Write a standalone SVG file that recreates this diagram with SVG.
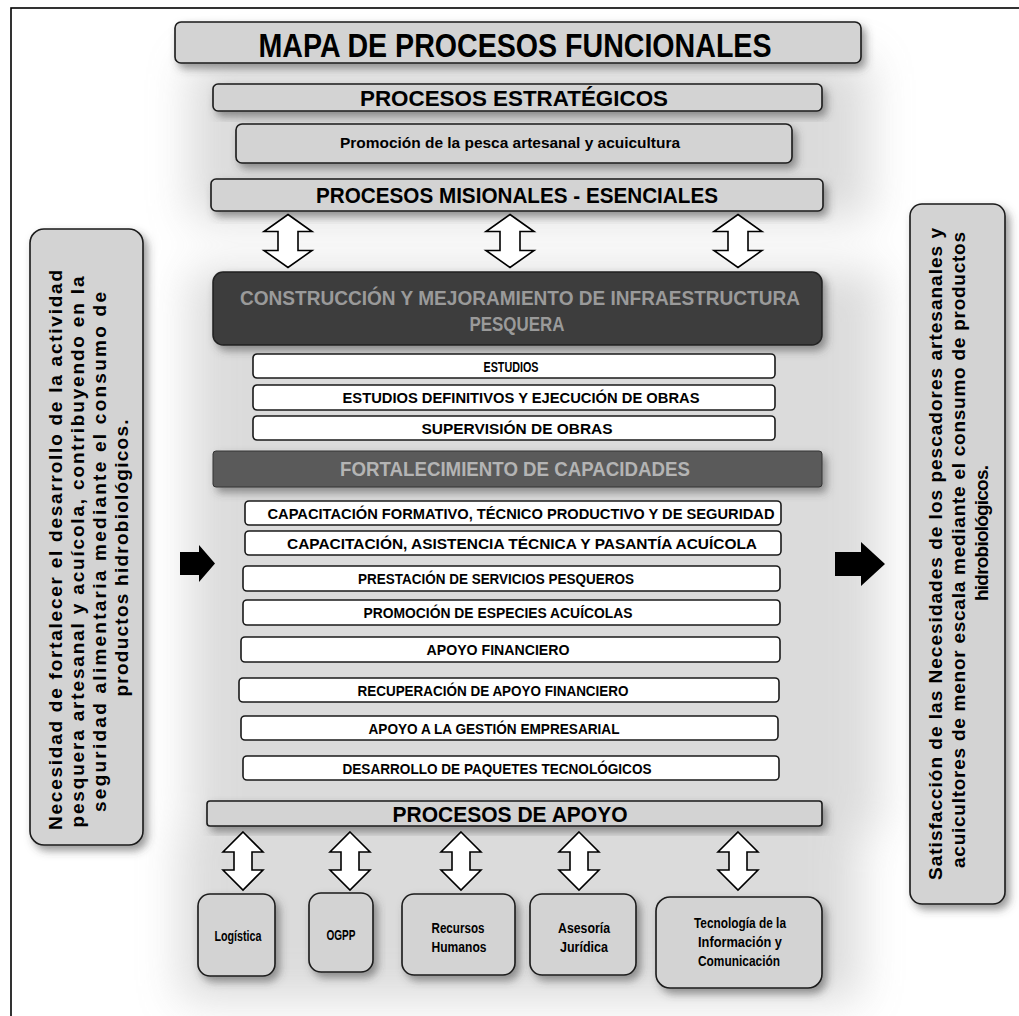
<svg xmlns="http://www.w3.org/2000/svg" width="1019" height="1016" viewBox="0 0 1019 1016">
<style>
.lb{fill:#d3d3d3;stroke:#1a1a1a;stroke-width:1.6}
.wb{fill:#ffffff;stroke:#1a1a1a;stroke-width:1.6}
.n{font-family:"Liberation Sans Narrow","Arial Narrow","Liberation Sans",Arial,sans-serif;font-weight:bold;fill:#000;text-anchor:middle}
.v{font-family:"Liberation Sans",Arial,sans-serif;font-weight:bold;font-size:19px;fill:#000;text-anchor:middle}
.dbl{fill:#fff;stroke:#000;stroke-width:1.6;stroke-linejoin:miter}
.blk{fill:#000}
</style>
<defs>
<filter id="sh" x="-20%" y="-20%" width="140%" height="160%">
<feDropShadow dx="4" dy="5" stdDeviation="4" flood-color="#444" flood-opacity="0.55"/>
</filter>
<filter id="halo" x="-20%" y="-20%" width="140%" height="140%">
<feGaussianBlur stdDeviation="22"/>
</filter>
<path id="da" d="M0,-26.5 L24,-9.5 L10,-9.5 L10,9.5 L24,9.5 L0,26.5 L-24,9.5 L-10,9.5 L-10,-9.5 L-24,-9.5 Z"/>
<path id="db" d="M0,-29 L20,-9 L9,-9 L9,9 L20,9 L0,29 L-20,9 L-9,9 L-9,-9 L-20,-9 Z"/>
</defs>
<rect x="0" y="0" width="1019" height="1016" fill="#fff"/>
<rect x="11" y="8" width="1012" height="1012" fill="none" stroke="#000" stroke-width="1.6"/>
<g id="halo-bg" opacity="0.35" filter="url(#halo)">
<rect x="190" y="60" width="680" height="160" fill="#9a9a9a"/>
<rect x="190" y="270" width="690" height="560" fill="#9a9a9a"/>
<rect x="180" y="830" width="680" height="170" fill="#9a9a9a"/>
</g>

<g id="titulo">
<rect class="lb" x="175" y="22" width="686" height="41" rx="6" filter="url(#sh)"/>
<text class="n" x="515" y="57" font-size="34" textLength="513" lengthAdjust="spacingAndGlyphs">MAPA DE PROCESOS FUNCIONALES</text>
</g>
<g id="estrategicos">
<rect class="lb" x="213" y="84" width="609" height="27" rx="5" filter="url(#sh)"/>
<text class="n" x="514" y="106" font-size="22" textLength="308" lengthAdjust="spacingAndGlyphs">PROCESOS ESTRATÉGICOS</text>
</g>
<g id="promocion">
<rect class="lb" x="236" y="124" width="556" height="39" rx="6" filter="url(#sh)"/>
<text class="n" x="510" y="148" font-size="15" textLength="340" lengthAdjust="spacingAndGlyphs">Promoción de la pesca artesanal y acuicultura</text>
</g>
<g id="misionales">
<rect class="lb" x="211" y="179" width="612" height="32" rx="5" filter="url(#sh)"/>
<text class="n" x="517" y="203" font-size="22" textLength="402" lengthAdjust="spacingAndGlyphs">PROCESOS MISIONALES - ESENCIALES</text>
</g>

<g id="construccion">
<rect x="213" y="272" width="609" height="73" rx="10" fill="#3c3c3c" stroke="#222" stroke-width="1.5" filter="url(#sh)"/>
<text class="n" x="520" y="305" font-size="21" style="fill:#9a9a9a" textLength="560" lengthAdjust="spacingAndGlyphs">CONSTRUCCIÓN Y MEJORAMIENTO DE INFRAESTRUCTURA</text>
<text class="n" x="517" y="331" font-size="21" style="fill:#9a9a9a" textLength="95" lengthAdjust="spacingAndGlyphs">PESQUERA</text>
</g>
<g id="estudios">
<rect class="wb" x="253" y="354" width="522" height="24" rx="4"/>
<text class="n" x="511" y="372" font-size="14" textLength="55" lengthAdjust="spacingAndGlyphs">ESTUDIOS</text>
</g>
<g id="estudios-definitivos">
<rect class="wb" x="253" y="385" width="522" height="25" rx="4"/>
<text class="n" x="521" y="403" font-size="14" textLength="357" lengthAdjust="spacingAndGlyphs">ESTUDIOS DEFINITIVOS Y EJECUCIÓN  DE OBRAS</text>
</g>
<g id="supervision">
<rect class="wb" x="253" y="416" width="522" height="24" rx="4"/>
<text class="n" x="517" y="434" font-size="14" textLength="191" lengthAdjust="spacingAndGlyphs">SUPERVISIÓN DE OBRAS</text>
</g>

<g id="fortalecimiento">
<rect x="213" y="451" width="609" height="36" rx="3" fill="#5a5a5a" stroke="#333" stroke-width="1" filter="url(#sh)"/>
<text class="n" x="515" y="476" font-size="21" style="fill:#b4b4b4" textLength="350" lengthAdjust="spacingAndGlyphs">FORTALECIMIENTO  DE CAPACIDADES</text>
</g>
<g id="cap-formativo">
<rect class="wb" x="245" y="501" width="536" height="24" rx="4"/>
<text class="n" x="521" y="519" font-size="14" textLength="507" lengthAdjust="spacingAndGlyphs">CAPACITACIÓN FORMATIVO, TÉCNICO PRODUCTIVO Y DE SEGURIDAD</text>
</g>
<g id="cap-asistencia">
<rect class="wb" x="245" y="531" width="536" height="24" rx="4"/>
<text class="n" x="522" y="549" font-size="14" textLength="470" lengthAdjust="spacingAndGlyphs">CAPACITACIÓN, ASISTENCIA TÉCNICA Y PASANTÍA ACUÍCOLA</text>
</g>
<g id="prestacion">
<rect class="wb" x="243" y="566" width="537" height="25" rx="4"/>
<text class="n" x="496" y="584" font-size="14" textLength="276" lengthAdjust="spacingAndGlyphs">PRESTACIÓN DE SERVICIOS PESQUEROS</text>
</g>
<g id="promocion-especies">
<rect class="wb" x="243" y="600" width="537" height="25" rx="4"/>
<text class="n" x="498" y="618" font-size="14" textLength="269" lengthAdjust="spacingAndGlyphs">PROMOCIÓN DE ESPECIES  ACUÍCOLAS</text>
</g>
<g id="apoyo-financiero">
<rect class="wb" x="241" y="637" width="539" height="25" rx="4"/>
<text class="n" x="498" y="655" font-size="14" textLength="143" lengthAdjust="spacingAndGlyphs">APOYO FINANCIERO</text>
</g>
<g id="recuperacion">
<rect class="wb" x="239" y="678" width="540" height="24" rx="4"/>
<text class="n" x="493" y="696" font-size="14" textLength="271" lengthAdjust="spacingAndGlyphs">RECUPERACIÓN  DE APOYO FINANCIERO</text>
</g>
<g id="gestion">
<rect class="wb" x="241" y="716" width="537" height="24" rx="4"/>
<text class="n" x="494" y="734" font-size="14" textLength="251" lengthAdjust="spacingAndGlyphs">APOYO A LA GESTIÓN EMPRESARIAL</text>
</g>
<g id="paquetes">
<rect class="wb" x="243" y="756" width="536" height="24" rx="4"/>
<text class="n" x="497" y="774" font-size="14" textLength="309" lengthAdjust="spacingAndGlyphs">DESARROLLO  DE PAQUETES  TECNOLÓGICOS</text>
</g>

<g id="apoyo">
<rect class="lb" x="207" y="801" width="615" height="25" rx="3" filter="url(#sh)"/>
<text class="n" x="510" y="822" font-size="22" textLength="235" lengthAdjust="spacingAndGlyphs">PROCESOS DE APOYO</text>
</g>
<g id="logistica">
<rect class="lb" x="198" y="894" width="77" height="82" rx="12" filter="url(#sh)"/>
<text class="n" x="238" y="941" font-size="15.5" textLength="47" lengthAdjust="spacingAndGlyphs">Logística</text>
</g>
<g id="ogpp">
<rect class="lb" x="309" y="893" width="64" height="79" rx="12" filter="url(#sh)"/>
<text class="n" x="341" y="940" font-size="15.5" textLength="29" lengthAdjust="spacingAndGlyphs">OGPP</text>
</g>
<g id="rrhh">
<rect class="lb" x="402" y="894" width="113" height="81" rx="12" filter="url(#sh)"/>
<text class="n" x="458" y="933" font-size="15.5" textLength="53" lengthAdjust="spacingAndGlyphs">Recursos</text>
<text class="n" x="459" y="952" font-size="15.5" textLength="55" lengthAdjust="spacingAndGlyphs">Humanos</text>
</g>
<g id="juridica">
<rect class="lb" x="530" y="894" width="106" height="81" rx="12" filter="url(#sh)"/>
<text class="n" x="584" y="933" font-size="15.5" textLength="52" lengthAdjust="spacingAndGlyphs">Asesoría</text>
<text class="n" x="584" y="952" font-size="15.5" textLength="48" lengthAdjust="spacingAndGlyphs">Jurídica</text>
</g>
<g id="tic">
<rect class="lb" x="656" y="897" width="166" height="91" rx="14" filter="url(#sh)"/>
<text class="n" x="740" y="928" font-size="15.5" textLength="92" lengthAdjust="spacingAndGlyphs">Tecnología de la</text>
<text class="n" x="740" y="947" font-size="15.5" textLength="84" lengthAdjust="spacingAndGlyphs">Información y</text>
<text class="n" x="739" y="966" font-size="15.5" textLength="82" lengthAdjust="spacingAndGlyphs">Comunicación</text>
</g>

<g id="necesidad">
<rect class="lb" x="30" y="229" width="113" height="616" rx="14" filter="url(#sh)"/>
<text class="v" transform="translate(62,550) rotate(-90)" textLength="560" lengthAdjust="spacing">Necesidad de fortalecer el desarrollo de la actividad</text>
<text class="v" transform="translate(84,552) rotate(-90)" textLength="551" lengthAdjust="spacing">pesquera artesanal y acuícola, contribuyendo en la</text>
<text class="v" transform="translate(106,552) rotate(-90)" textLength="520" lengthAdjust="spacing">seguridad alimentaria mediante el consumo de</text>
<text class="v" transform="translate(128,558) rotate(-90)" textLength="277" lengthAdjust="spacing">productos hidrobiológicos.</text>
</g>
<g id="satisfaccion">
<rect class="lb" x="910" y="204" width="95" height="700" rx="12" filter="url(#sh)"/>
<text class="v" transform="translate(942,554) rotate(-90)" textLength="652" lengthAdjust="spacing">Satisfacción de las Necesidades de los pescadores artesanales y</text>
<text class="v" transform="translate(965,550) rotate(-90)" textLength="636" lengthAdjust="spacing">acuicultores de menor escala mediante el consumo de productos</text>
<text class="v" transform="translate(988,533) rotate(-90)" textLength="136" lengthAdjust="spacing">hidrobiológicos.</text>
</g>

<g id="connectors">
<use href="#da" class="dbl" x="288" y="241"/>
<use href="#da" class="dbl" x="510" y="241"/>
<use href="#da" class="dbl" x="738" y="241"/>
<use href="#db" class="dbl" x="243" y="861"/>
<use href="#db" class="dbl" x="350" y="861"/>
<use href="#db" class="dbl" x="461" y="861"/>
<use href="#db" class="dbl" x="579" y="861"/>
<use href="#db" class="dbl" x="738" y="861"/>
<path class="blk" d="M180,552 L199,552 L199,545 L215,563.5 L199,582 L199,575 L180,575 Z"/>
<path class="blk" d="M835,552 L861,552 L861,542 L885,564 L861,586 L861,576 L835,576 Z"/>
</g>
</svg>
